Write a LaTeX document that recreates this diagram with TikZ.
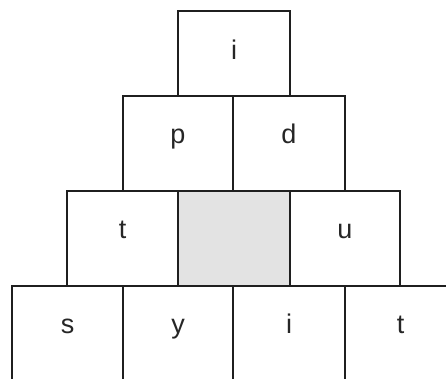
\documentclass[tikz,border=0pt]{standalone}
\usepackage{fontspec}
\setmainfont{Liberation Sans}
\begin{document}
\begin{tikzpicture}[x=1pt,y=-1pt,
  cell/.style={draw=black!88,line width=1.4pt,minimum width=#1,minimum height=95pt,inner sep=0pt,outer sep=0pt,anchor=north west},
  cell/.default=111pt,
  lbl/.style={anchor=base,font=\fontsize{27}{30}\selectfont,text=black!85,inner sep=0pt},
  edge/.style={draw=black!88,line width=1.4pt}]
\useasboundingbox (0,0) rectangle (446,379);
\begin{scope}
\clip (0,0) rectangle (446,379);
% row 1
\node[cell=112pt,minimum height=85pt] (a1) at (178,11) {};
% row 2
\node[cell=110pt] (b1) at (123,96) {};
\node[cell=112pt] (b2) at (233,96) {};
% row 3
\node[cell=111pt] (c1) at (67,191) {};
\node[cell=112pt,fill=black!11] (c2) at (178,191) {};
\node[cell=110pt] (c3) at (290,191) {};
% row 4 (open at the bottom)
\node[cell=111pt,draw=none] (d1) at (12,286) {};
\node[cell=110pt,draw=none] (d2) at (123,286) {};
\node[cell=112pt,draw=none] (d3) at (233,286) {};
\node[cell=111pt,draw=none] (d4) at (345,286) {};
\coordinate (e) at (456,286);
\draw[edge] (d1.south west) -- (d1.north west) -- (e);
\draw[edge] (d2.north west) -- (d2.south west);
\draw[edge] (d3.north west) -- (d3.south west);
\draw[edge] (d4.north west) -- (d4.south west);
\end{scope}
% labels
\node[lbl] at ([yshift=-6pt]a1.center) {i};
\node[lbl] at (b1.center) {p};
\node[lbl] at (b2.center) {d};
\node[lbl] at (c1.center) {t};
\node[lbl] at (c3.center) {u};
\node[lbl] at (d1.center) {s};
\node[lbl] at (d2.center) {y};
\node[lbl] at (d3.center) {i};
\node[lbl] at (d4.center) {t};
\end{tikzpicture}
\end{document}
